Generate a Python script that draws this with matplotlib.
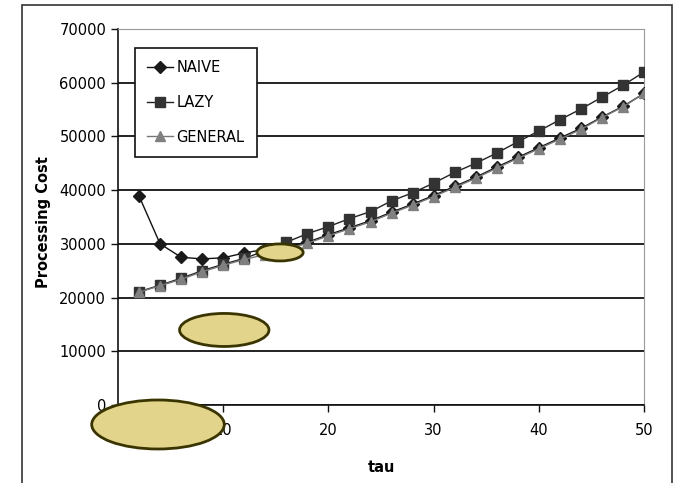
import numpy as np
import matplotlib
matplotlib.use('Agg')
import matplotlib.pyplot as plt
from matplotlib.patches import Ellipse, Rectangle

tau = np.arange(2, 51, 2)
naive = [38900, 30000, 27500, 27200, 27400, 28300, 29000, 29600, 30300, 31700,
         33000, 34300, 35900, 37400, 39000, 40700, 42400, 44300, 46100, 47900,
         49700, 51500, 53600, 55600, 58000]
lazy = [21100, 22300, 23600, 25000, 26200, 27300, 28700, 30300, 31900, 33200,
        34700, 36000, 38000, 39500, 41300, 43300, 45000, 46900, 49000, 51000,
        53100, 55100, 57300, 59500, 62000]
general = [21000, 22200, 23400, 24800, 26000, 27100, 28000, 29000, 30100, 31500,
           32800, 34100, 35700, 37200, 38800, 40500, 42200, 44100, 45900, 47700,
           49500, 51300, 53500, 55500, 58000]

plt.rcParams['font.family'] = 'DejaVu Sans'

fig = plt.figure(figsize=(6.79, 4.83), dpi=100)
ax = fig.add_axes([0.1738, 0.1615, 0.7747, 0.7785])

ax.plot(tau, naive, color='#111111', lw=1, marker='D', ms=6, mfc='#1a1a1a', mec='#1a1a1a', label='NAIVE', zorder=3)
ax.plot(tau, lazy, color='#222222', lw=1, marker='s', ms=7, mfc='#333333', mec='#333333', label='LAZY', zorder=4)
ax.plot(tau, general, color='#777777', lw=1, marker='^', ms=7, mfc='#808080', mec='#808080', label='GENERAL', zorder=5)

ax.set_xlim(0, 50)
ax.set_ylim(0, 70000)
ax.set_xticks(range(0, 51, 10))
ax.set_yticks(range(0, 70001, 10000))
ax.yaxis.grid(True, color='#111111', lw=1.3)
ax.set_axisbelow(True)
ax.tick_params(direction='out', length=5, width=1, labelsize=10.5, color='#111111')
ax.tick_params(axis='x', pad=8)
for s in ['top', 'right']:
    ax.spines[s].set_color('#999999')
for s in ['left', 'bottom']:
    ax.spines[s].set_color('#111111')
    ax.spines[s].set_linewidth(1.2)

ax.set_ylabel('Processing Cost', fontsize=10.5, fontweight='bold')
ax.yaxis.set_label_coords(-0.128, 0.487)
ax.set_xlabel('tau', fontsize=10.5, fontweight='bold')
ax.xaxis.set_label_coords(0.5, -0.145)

leg = ax.legend(loc='upper left', bbox_to_anchor=(0.032, 0.95), borderaxespad=0,
                fancybox=False, edgecolor='#111111', framealpha=1, fontsize=10.5,
                labelspacing=1.35, handlelength=1.8, handletextpad=0.2, borderpad=0.85)
leg.get_frame().set_linewidth(1.2)

# highlight blobs
fill = '#e2d48a'
edge = '#3a3500'
for cx, cy, w, h in [(15.4, 28400, 4.4, 3170), (10.1, 13970, 8.5, 6150), (3.8, -3630, 12.6, 9125)]:
    ax.add_patch(Ellipse((cx, cy), w, h, facecolor=fill, edgecolor=edge, lw=2, zorder=10, clip_on=False))

fig.patches.append(Rectangle((22 / 679, -0.01), 650 / 679, 0.99 + 0.01, transform=fig.transFigure,
                             fill=False, edgecolor='#333333', lw=1.2))

plt.savefig('out.png', dpi=100)
